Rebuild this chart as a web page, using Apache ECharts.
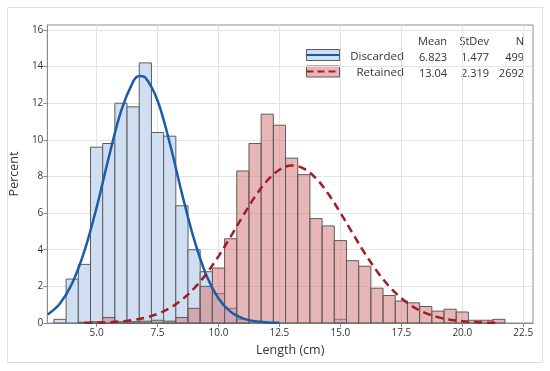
<!DOCTYPE html>
<html><head><meta charset="utf-8">
<script src="https://cdn.jsdelivr.net/npm/echarts@6/dist/echarts.min.js"></script>
<style>html,body{margin:0;padding:0;background:#fff}#c{width:550px;height:371px}</style>
</head><body><div id="c"></div>
<script>
// ---- data ----
const binWidth = 0.5;
const discardedBins = [3.5,4.0,4.5,5.0,5.5,6.0,6.5,7.0,7.5,8.0,8.5,9.0,9.5,10.0,10.5,11.0,15.0];
const discardedPct  = [0.2,2.4,3.2,9.6,9.8,12.0,11.8,14.2,10.4,10.2,6.4,4.0,2.8,1.6,0.8,0.2,0.2];
const retainedBins = [4.5,5.0,5.5,6.0,6.5,7.0,7.5,8.0,8.5,9.0,9.5,10.0,10.5,11.0,11.5,12.0,12.5,13.0,13.5,14.0,14.5,15.0,15.5,16.0,16.5,17.0,17.5,18.0,18.5,19.0,19.5,20.0,20.5,21.0,21.5];
const retainedPct  = [0.04,0.07,0.3,0.07,0.07,0.1,0.15,0.1,0.3,0.8,2.0,3.0,4.6,8.3,9.8,11.4,10.8,9.0,8.1,5.7,5.3,4.5,3.4,3.1,1.9,1.5,1.2,1.1,0.9,0.65,0.75,0.6,0.15,0.15,0.2];

// fitted curves, values
const discardedCurveX = [3.0,3.5,4.0,4.5,5.0,5.5,6.0,6.5,6.75,7.0,7.5,8.0,8.5,9.0,9.5,10.0,10.5,11.0,11.5,12.0,12.5];
const discardedCurveY = [0.47,1.07,2.17,3.92,6.30,9.04,11.56,13.18,13.49,13.40,12.15,9.83,7.08,4.56,2.61,1.34,0.61,0.25,0.09,0.03,0.01];
const retainedCurveX = [4.5,5.0,5.5,6.0,6.5,7.0,7.5,8.0,8.5,9.0,9.5,10.0,10.5,11.0,11.5,12.0,12.5,13.0,13.5,14.0,14.5,15.0,15.5,16.0,16.5,17.0,17.5,18.0,18.5,19.0,19.5,20.0,20.5,21.0,21.5];
const retainedCurveY = [0.01,0.02,0.04,0.09,0.16,0.29,0.50,0.81,1.27,1.89,2.68,3.64,4.72,5.84,6.90,7.78,8.37,8.60,8.43,7.90,7.06,6.02,4.90,3.81,2.83,2.00,1.35,0.87,0.54,0.32,0.18,0.10,0.05,0.02,0.01];

const xTicks = [5.0,7.5,10.0,12.5,15.0,17.5,20.0,22.5];
const yTicks = [0,2,4,6,8,10,12,14,16];

const seriesNames = ['Discarded','Retained'];
const statHeaders = ['Mean','StDev','N'];
const statMeans = ['6.823','13.04'];
const statStDevs = ['1.477','2.319'];
const statNs = ['499','2692'];

// ---- styles ----
const FONT = '"Open Sans", "Noto Sans", sans-serif';
const TXT = '#333333';
const BLUE_FILL = '#cfdff1';
const BLUE_LINE = '#1b5ca8';
const PINK_FILL = 'rgba(214,122,122,0.55)';
const RED_LINE = '#a11d24';
const BAR_EDGE = '#5c5c5c';

function zip(a, b){ return a.map((v,i)=>[v,b[i]]); }

function barRenderer(fill){
  return function(params, api){
    const x = api.value(0), y = api.value(1);
    const p0 = api.coord([x - binWidth/2, y]);
    const p1 = api.coord([x + binWidth/2, 0]);
    return {
      type:'rect',
      shape:{x:p0[0], y:p0[1], width:p1[0]-p0[0], height:p1[1]-p0[1]},
      style:{fill:fill, stroke:BAR_EDGE, lineWidth:1}
    };
  };
}

const chart = echarts.init(document.getElementById('c'), null, {renderer:'canvas'});

// legend / stats table as graphic text
const colX = [447, 489, 524];
const rowY = [56.5, 72.5];
const graphics = [
  {type:'rect', z:-10, shape:{x:7.5,y:7.5,width:535,height:355}, style:{fill:'none', stroke:'#dedede', lineWidth:1}}
];
statHeaders.forEach((h,i)=>graphics.push({type:'text', x:colX[i], y:42, style:{text:h, align:'right', verticalAlign:'middle', font:'11px '+FONT, fill:TXT}}));
const rowsVals = [statMeans, statStDevs, statNs];
seriesNames.forEach((n,r)=>{
  graphics.push({type:'text', x:404, y:rowY[r], style:{text:n, align:'right', verticalAlign:'middle', font:'11.5px '+FONT, fill:TXT}});
  rowsVals.forEach((arr,c)=>graphics.push({type:'text', x:colX[c], y:rowY[r]+1, style:{text:arr[r], align:'right', verticalAlign:'middle', font:'11px '+FONT, fill:TXT}}));
});
// swatches
graphics.push({type:'rect', shape:{x:306.5,y:49.5,width:33,height:11}, style:{fill:BLUE_FILL, stroke:BAR_EDGE, lineWidth:1}});
graphics.push({type:'line', shape:{x1:306.5,y1:55,x2:339.5,y2:55}, style:{stroke:BLUE_LINE, lineWidth:2}});
graphics.push({type:'rect', shape:{x:306.5,y:66,width:33,height:11}, style:{fill:PINK_FILL, stroke:BAR_EDGE, lineWidth:1}});
graphics.push({type:'line', shape:{x1:306.5,y1:71.5,x2:339.5,y2:71.5}, style:{stroke:RED_LINE, lineWidth:2, lineDash:[7,4]}});

chart.setOption({
  animation:false,
  backgroundColor:'#ffffff',
  textStyle:{fontFamily:FONT},
  grid:{left:47, top:25, right:17, bottom:48, show:true, borderColor:'#8c8c8c', borderWidth:1, backgroundColor:'transparent'},
  xAxis:{
    type:'value', min:2.98, max:22.9,
    name:'Length (cm)', nameLocation:'middle', nameGap:21,
    nameTextStyle:{fontSize:12.5, color:TXT, fontFamily:FONT},
    axisLine:{show:true, lineStyle:{color:'#8c8c8c'}},
    axisTick:{show:true, length:4, customValues:xTicks, lineStyle:{color:'#8c8c8c'}},
    axisLabel:{customValues:xTicks, color:TXT, fontSize:10, margin:5, formatter:v=>v.toFixed(1)},
    splitLine:{show:true, customValues:xTicks, lineStyle:{color:'#e3e3e3'}}
  },
  yAxis:{
    type:'value', min:0, max:16.27, interval:2,
    name:'Percent', nameLocation:'middle', nameGap:18,
    nameTextStyle:{fontSize:12.5, color:TXT, fontFamily:FONT},
    axisLine:{show:true, lineStyle:{color:'#8c8c8c'}},
    axisTick:{show:true, length:4, customValues:yTicks, lineStyle:{color:'#8c8c8c'}},
    axisLabel:{customValues:yTicks, color:TXT, fontSize:10, margin:4},
    splitLine:{show:true, lineStyle:{color:'#e3e3e3'}}
  },
  graphic:graphics,
  series:[
    {name:'Discarded', type:'custom', z:2, renderItem:barRenderer(BLUE_FILL), data:zip(discardedBins, discardedPct), encode:{x:0,y:1}},
    {name:'Retained', type:'custom', z:3, renderItem:barRenderer(PINK_FILL), data:zip(retainedBins, retainedPct), encode:{x:0,y:1}},
    {name:'Discarded fit', type:'line', z:5, showSymbol:false, smooth:0.35, data:zip(discardedCurveX, discardedCurveY), lineStyle:{color:BLUE_LINE, width:2.5}},
    {name:'Retained fit', type:'line', z:5, showSymbol:false, smooth:0.35, data:zip(retainedCurveX, retainedCurveY), lineStyle:{color:RED_LINE, width:2.5, type:[8,5]}}
  ]
});
</script></body></html>
